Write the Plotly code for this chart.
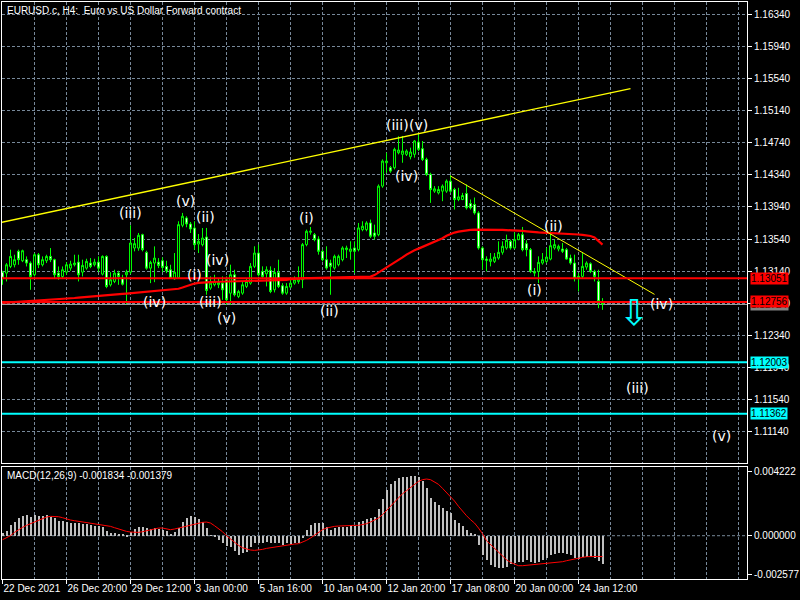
import plotly.graph_objects as go

# --- EURUSD H4 candles (bar index 0 = 22 Dec 2021) ---
opens = [1.13127, 1.13115, 1.13198, 1.13219, 1.13386, 1.13269, 1.13282, 1.13240, 1.13094, 1.13344,
         1.13219, 1.13269, 1.13323, 1.13282, 1.13115, 1.13073, 1.13127, 1.13177, 1.13219, 1.13252,
         1.13127, 1.13177, 1.13240, 1.13219, 1.13252, 1.13102, 1.13323, 1.12969, 1.13011, 1.13115,
         1.13052, 1.13094, 1.13127, 1.13427, 1.13427, 1.13594, 1.13373, 1.13177, 1.13240, 1.13252,
         1.13269, 1.13198, 1.13157, 1.13044, 1.13061, 1.13711, 1.13802, 1.13727, 1.13677, 1.13477,
         1.13469, 1.13565, 1.12928, 1.12970, 1.12970, 1.12990, 1.13032, 1.12865, 1.13095, 1.12824,
         1.12865, 1.12949, 1.12990, 1.13199, 1.13365, 1.13136, 1.13107, 1.13149, 1.12907, 1.13124,
         1.12957, 1.12865, 1.12940, 1.12990, 1.13011, 1.13032, 1.13470, 1.13624, 1.13594, 1.13540,
         1.13386, 1.13282, 1.13240, 1.13178, 1.13220, 1.13282, 1.13407, 1.13386, 1.13428, 1.13407,
         1.13657, 1.13657, 1.13740, 1.13615, 1.13594, 1.14199, 1.14490, 1.14428, 1.14428, 1.14615,
         1.14595, 1.14595, 1.14565, 1.14595, 1.14749, 1.14665, 1.14532, 1.14345, 1.14136, 1.14115,
         1.14136, 1.14136, 1.14261, 1.14157, 1.14032, 1.14032, 1.14107, 1.13982, 1.13970, 1.13865,
         1.13428, 1.13290, 1.13261, 1.13261, 1.13303, 1.13374, 1.13428, 1.13511, 1.13428, 1.13532,
         1.13594, 1.13482, 1.13407, 1.13136, 1.13136, 1.13240, 1.13261, 1.13290, 1.13428, 1.13415,
         1.13415, 1.13407, 1.13303, 1.13240, 1.13074, 1.13074, 1.13190, 1.13232, 1.13136, 1.13011,
         1.12749]
highs = [1.13144, 1.13240, 1.13407, 1.13344, 1.13407, 1.13407, 1.13323, 1.13261, 1.13365, 1.13365,
         1.13323, 1.13344, 1.13427, 1.13294, 1.13198, 1.13198, 1.13252, 1.13269, 1.13344, 1.13344,
         1.13282, 1.13294, 1.13302, 1.13294, 1.13323, 1.13336, 1.13336, 1.13127, 1.13157, 1.13144,
         1.13094, 1.13157, 1.13711, 1.13552, 1.13615, 1.13606, 1.13394, 1.13269, 1.13448, 1.13302,
         1.13311, 1.13269, 1.13219, 1.13365, 1.13761, 1.13865, 1.13823, 1.13752, 1.13761, 1.13602,
         1.13677, 1.13678, 1.13074, 1.13095, 1.13053, 1.13074, 1.13074, 1.13220, 1.13157, 1.12907,
         1.13011, 1.13053, 1.13240, 1.13449, 1.13470, 1.13199, 1.13199, 1.13199, 1.13178, 1.13282,
         1.12990, 1.12990, 1.13032, 1.13074, 1.13199, 1.13490, 1.13657, 1.13690, 1.13615, 1.13574,
         1.13407, 1.13449, 1.13282, 1.13345, 1.13345, 1.13449, 1.13457, 1.13511, 1.13511, 1.13740,
         1.13761, 1.13761, 1.13782, 1.13719, 1.14220, 1.14532, 1.14615, 1.14449, 1.14678, 1.14820,
         1.14824, 1.14657, 1.14678, 1.14774, 1.14845, 1.14761, 1.14553, 1.14365, 1.14199, 1.14199,
         1.14220, 1.14282, 1.14336, 1.14178, 1.14178, 1.14115, 1.14220, 1.14032, 1.14057, 1.13886,
         1.13449, 1.13324, 1.13365, 1.13365, 1.13511, 1.13511, 1.13594, 1.13532, 1.13624, 1.13615,
         1.13690, 1.13524, 1.13428, 1.13178, 1.13324, 1.13365, 1.13428, 1.13636, 1.13532, 1.13470,
         1.13490, 1.13428, 1.13345, 1.13345, 1.13115, 1.13365, 1.13261, 1.13249, 1.13157, 1.13157,
         1.12803]
lows = [1.12969, 1.13011, 1.13177, 1.13186, 1.13219, 1.13252, 1.13198, 1.12907, 1.13073, 1.13177,
        1.13198, 1.13240, 1.13252, 1.13052, 1.13032, 1.13044, 1.13094, 1.13144, 1.13198, 1.13011,
        1.13073, 1.13157, 1.13177, 1.13198, 1.13127, 1.13086, 1.12927, 1.12948, 1.12990, 1.12969,
        1.12961, 1.12727, 1.13102, 1.13386, 1.13394, 1.13386, 1.13157, 1.12990, 1.13002, 1.13177,
        1.13127, 1.13115, 1.13044, 1.13032, 1.13044, 1.13686, 1.13686, 1.13615, 1.13407, 1.13365,
        1.13448, 1.12845, 1.12907, 1.12949, 1.12928, 1.12782, 1.12720, 1.12720, 1.12824, 1.12803,
        1.12845, 1.12928, 1.12970, 1.13178, 1.13074, 1.13053, 1.12949, 1.12865, 1.12874, 1.12928,
        1.12845, 1.12845, 1.12928, 1.12970, 1.12982, 1.12928, 1.13449, 1.13594, 1.13511, 1.13345,
        1.13261, 1.13157, 1.12845, 1.13157, 1.13199, 1.13261, 1.13303, 1.13282, 1.13115, 1.13386,
        1.13636, 1.13636, 1.13553, 1.13532, 1.13574, 1.14178, 1.14365, 1.14365, 1.14407, 1.14595,
        1.14490, 1.14574, 1.14532, 1.14553, 1.14636, 1.14511, 1.14324, 1.13990, 1.14115, 1.14095,
        1.14011, 1.14115, 1.14115, 1.13907, 1.14011, 1.14024, 1.13907, 1.13907, 1.13844, 1.13407,
        1.13157, 1.13136, 1.13199, 1.13240, 1.13282, 1.13345, 1.13407, 1.13407, 1.13415, 1.13524,
        1.13386, 1.13324, 1.13115, 1.13074, 1.12990, 1.13220, 1.13240, 1.13274, 1.13407, 1.13386,
        1.13365, 1.13282, 1.13220, 1.13011, 1.12886, 1.13053, 1.13157, 1.13115, 1.13011, 1.12678,
        1.12657]
closes = [1.13052, 1.13219, 1.13323, 1.13282, 1.13282, 1.13394, 1.13240, 1.13073, 1.13344, 1.13219,
          1.13282, 1.13323, 1.13282, 1.13094, 1.13073, 1.13157, 1.13219, 1.13227, 1.13240, 1.13094,
          1.13211, 1.13261, 1.13198, 1.13252, 1.13177, 1.13323, 1.12948, 1.13032, 1.13115, 1.13073,
          1.12977, 1.13127, 1.13490, 1.13482, 1.13586, 1.13407, 1.13177, 1.13248, 1.13302, 1.13211,
          1.13186, 1.13144, 1.13052, 1.13127, 1.13719, 1.13823, 1.13727, 1.13665, 1.13469, 1.13511,
          1.13552, 1.12899, 1.12990, 1.13011, 1.12999, 1.12907, 1.12782, 1.13095, 1.12845, 1.12886,
          1.12970, 1.13011, 1.13199, 1.13365, 1.13095, 1.13074, 1.13157, 1.12886, 1.13124, 1.12949,
          1.12865, 1.12949, 1.12990, 1.13032, 1.13040, 1.13470, 1.13636, 1.13636, 1.13532, 1.13386,
          1.13282, 1.13178, 1.13199, 1.13324, 1.13324, 1.13428, 1.13428, 1.13415, 1.13386, 1.13678,
          1.13699, 1.13740, 1.13574, 1.13574, 1.14199, 1.14511, 1.14511, 1.14386, 1.14657, 1.14649,
          1.14636, 1.14636, 1.14624, 1.14761, 1.14657, 1.14532, 1.14345, 1.14157, 1.14165, 1.14157,
          1.14199, 1.14261, 1.14136, 1.14032, 1.14065, 1.14082, 1.13928, 1.13928, 1.13865, 1.13428,
          1.13282, 1.13274, 1.13290, 1.13315, 1.13374, 1.13449, 1.13524, 1.13428, 1.13532, 1.13594,
          1.13407, 1.13407, 1.13136, 1.13115, 1.13249, 1.13282, 1.13315, 1.13457, 1.13470, 1.13449,
          1.13386, 1.13290, 1.13240, 1.13053, 1.13053, 1.13199, 1.13240, 1.13136, 1.13074, 1.12761,
          1.12728]

# red moving average on the price chart
ma = [1.12745, 1.12748, 1.12750, 1.12752, 1.12755, 1.12758, 1.12760, 1.12763, 1.12766, 1.12770,
      1.12773, 1.12776, 1.12780, 1.12784, 1.12788, 1.12792, 1.12796, 1.12800, 1.12805, 1.12810,
      1.12815, 1.12820, 1.12825, 1.12830, 1.12834, 1.12838, 1.12842, 1.12845, 1.12848, 1.12852,
      1.12856, 1.12860, 1.12864, 1.12868, 1.12872, 1.12876, 1.12880, 1.12884, 1.12888, 1.12893,
      1.12898, 1.12903, 1.12908, 1.12913, 1.12920, 1.12935, 1.12955, 1.12975, 1.12985, 1.12993,
      1.12998, 1.13003, 1.13005, 1.13006, 1.13007, 1.13008, 1.13009, 1.13010, 1.13011, 1.13012,
      1.13013, 1.13014, 1.13015, 1.13016, 1.13017, 1.13018, 1.13019, 1.13020, 1.13021, 1.13022,
      1.13023, 1.13030, 1.13040, 1.13045, 1.13048, 1.13050, 1.13052, 1.13053, 1.13054, 1.13055,
      1.13056, 1.13057, 1.13058, 1.13059, 1.13060, 1.13061, 1.13062, 1.13063, 1.13064, 1.13065,
      1.13066, 1.13067, 1.13072, 1.13090, 1.13120, 1.13150, 1.13180, 1.13210, 1.13245, 1.13280,
      1.13310, 1.13345, 1.13375, 1.13400, 1.13420, 1.13440, 1.13465, 1.13490, 1.13510, 1.13530,
      1.13550, 1.13580, 1.13605, 1.13620, 1.13632, 1.13642, 1.13650, 1.13654, 1.13656, 1.13657,
      1.13657, 1.13657, 1.13656, 1.13655, 1.13654, 1.13653, 1.13652, 1.13650, 1.13649, 1.13645,
      1.13640, 1.13635, 1.13628, 1.13624, 1.13622, 1.13620, 1.13618, 1.13617, 1.13616, 1.13615,
      1.13612, 1.13608, 1.13604, 1.13600, 1.13596, 1.13592, 1.13585, 1.13578, 1.13560, 1.13515,
      1.13470]

# MACD(12,26,9): histogram (main line) and signal
macd = [0.000176, 0.000352, 0.000726, 0.000946, 0.001166, 0.001320, 0.001386, 0.001276, 0.001386, 0.001342,
        0.001342, 0.001386, 0.001276, 0.001166, 0.001012, 0.000990, 0.000902, 0.000880, 0.000880, 0.000836,
        0.000792, 0.000770, 0.000726, 0.000682, 0.000660, 0.000616, 0.000352, 0.000220, 0.000176, 0.000132,
        0.000066, -0.000088, 0.000286, 0.000440, 0.000616, 0.000616, 0.000506, 0.000440, 0.000506, 0.000484,
        0.000396, 0.000352, 0.000132, 0.000286, 0.000506, 0.000946, 0.001166, 0.001320, 0.001232, 0.001100,
        0.000946, 0.000506, 0.000020, -0.000088, -0.000264, -0.000484, -0.000660, -0.000748, -0.000968, -0.001254,
        -0.001144, -0.001034, -0.000704, -0.000484, -0.000440, -0.000484, -0.000374, -0.000484, -0.000440, -0.000484,
        -0.000594, -0.000484, -0.000528, -0.000484, -0.000440, -0.000154, 0.000396, 0.000726, 0.000880, 0.000880,
        0.000836, 0.000616, 0.000396, 0.000506, 0.000616, 0.000616, 0.000616, 0.000660, 0.000660, 0.000946,
        0.001012, 0.001100, 0.001166, 0.001276, 0.001760, 0.002420, 0.003036, 0.003432, 0.003652, 0.003806,
        0.003872, 0.003916, 0.003960, 0.003982, 0.003916, 0.003652, 0.003146, 0.002486, 0.002266, 0.002046,
        0.001826, 0.001672, 0.001540, 0.001056, 0.000836, 0.000660, 0.000396, 0.000220, 0.000066, -0.000594,
        -0.001254, -0.001584, -0.001914, -0.002068, -0.002134, -0.002134, -0.002024, -0.001848, -0.001760, -0.001694,
        -0.001694, -0.001584, -0.001694, -0.001804, -0.001694, -0.001584, -0.001474, -0.001254, -0.001188, -0.001100,
        -0.001144, -0.001188, -0.001254, -0.001474, -0.001540, -0.001408, -0.001364, -0.001364, -0.001474, -0.001650,
        -0.001834]
signal = [-0.000264, -0.000132, 0.000000, 0.000220, 0.000396, 0.000550, 0.000682, 0.000792, 0.000902, 0.001012,
          0.001122, 0.001232, 0.001276, 0.001276, 0.001254, 0.001188, 0.001100, 0.001034, 0.000990, 0.000946,
          0.000924, 0.000880, 0.000836, 0.000792, 0.000770, 0.000726, 0.000682, 0.000616, 0.000528, 0.000440,
          0.000352, 0.000286, 0.000242, 0.000220, 0.000220, 0.000264, 0.000330, 0.000396, 0.000462, 0.000506,
          0.000506, 0.000462, 0.000396, 0.000440, 0.000506, 0.000572, 0.000638, 0.000704, 0.000770, 0.000836,
          0.000880, 0.000902, 0.000836, 0.000660, 0.000484, 0.000264, 0.000000, -0.000220, -0.000440, -0.000638,
          -0.000792, -0.000880, -0.000946, -0.000968, -0.000946, -0.000902, -0.000836, -0.000792, -0.000748, -0.000704,
          -0.000638, -0.000594, -0.000572, -0.000550, -0.000528, -0.000440, -0.000308, -0.000154, 0.000044, 0.000242,
          0.000396, 0.000506, 0.000572, 0.000616, 0.000638, 0.000660, 0.000682, 0.000682, 0.000682, 0.000682,
          0.000726, 0.000792, 0.000902, 0.001012, 0.001166, 0.001386, 0.001672, 0.001980, 0.002266, 0.002530,
          0.002772, 0.002970, 0.003168, 0.003366, 0.003586, 0.003696, 0.003740, 0.003696, 0.003564, 0.003388,
          0.003124, 0.002860, 0.002596, 0.002288, 0.001936, 0.001606, 0.001320, 0.001056, 0.000836, 0.000506,
          0.000132, -0.000330, -0.000594, -0.000836, -0.001100, -0.001364, -0.001584, -0.001760, -0.001892, -0.001980,
          -0.001980, -0.001958, -0.001936, -0.001914, -0.001892, -0.001870, -0.001848, -0.001826, -0.001804, -0.001760,
          -0.001716, -0.001650, -0.001584, -0.001540, -0.001474, -0.001430, -0.001386, -0.001364, -0.001360, -0.001370,
          -0.001379]

date_ticks = [0, 16, 32, 48, 64, 80, 96, 112, 128, 144]
date_labels = ["22 Dec 2021", "26 Dec 20:00", "29 Dec 12:00", "3 Jan 00:00", "5 Jan 16:00",
               "10 Jan 04:00", "12 Jan 20:00", "17 Jan 08:00", "20 Jan 00:00", "24 Jan 12:00"]

red_levels = [1.13051, 1.12756]
cyan_levels = [1.12003, 1.11362]
bid_price = 1.12724

# trend lines (bar, price)
upper_line_x = [-1, 157]
upper_line_y = [1.13740, 1.15414]
down_line_x = [112, 163]
down_line_y = [1.14325, 1.12850]

# Elliott wave marks (text, bar, price)
waves = [("(iii)", 31.9, 1.13866), ("(v)", 45.8, 1.14019), ("(ii)", 50.8, 1.13811),
         ("(i)", 47.9, 1.13087), ("(iv)", 53.7, 1.13273), ("(iv)", 37.9, 1.12755),
         ("(iii)", 51.9, 1.12755), ("(v)", 56.05, 1.12561), ("(i)", 75.9, 1.13801),
         ("(ii)", 81.75, 1.12639), ("(iii)", 98.7, 1.14963), ("(v)", 103.9, 1.14963),
         ("(iv)", 100.9, 1.14329), ("(ii)", 137.7, 1.13708), ("(i)", 132.9, 1.12900),
         ("(iv)", 164.8, 1.12735), ("(iii)", 158.8, 1.11679), ("(v)", 179.8, 1.11090)]
arrow_at = (157.75, 1.12627)

bars = list(range(len(closes)))
small = "Liberation Sans, Arial, sans-serif"
grid = "#778899"
XR = [-0.125, 186.125]

fig = go.Figure()

fig.add_trace(go.Candlestick(
    x=bars, open=opens, high=highs, low=lows, close=closes,
    increasing=dict(line=dict(color="#00FF00", width=1), fillcolor="black"),
    decreasing=dict(line=dict(color="#00FF00", width=1), fillcolor="white"),
    xaxis="x", yaxis="y", hoverinfo="skip"))
fig.add_trace(go.Scatter(x=bars, y=ma, mode="lines", line=dict(color="#FF0000", width=2.2),
                         xaxis="x", yaxis="y"))
fig.add_trace(go.Scatter(x=upper_line_x, y=upper_line_y, mode="lines",
                         line=dict(color="#FFFF00", width=1.4), xaxis="x", yaxis="y"))
fig.add_trace(go.Scatter(x=down_line_x, y=down_line_y, mode="lines",
                         line=dict(color="#FFFF00", width=1), xaxis="x", yaxis="y"))

fig.add_trace(go.Bar(x=bars, y=macd, width=0.5, marker=dict(color="#C0C0C0", line=dict(width=0)),
                     xaxis="x2", yaxis="y2"))
fig.add_trace(go.Scatter(x=bars, y=signal, mode="lines", line=dict(color="#FF0000", width=1),
                         xaxis="x2", yaxis="y2"))

shapes = []
for lv in red_levels:
    shapes.append(dict(type="line", xref="paper", x0=0, x1=1, yref="y", y0=lv, y1=lv,
                       line=dict(color="#FF0000", width=2)))
for lv in cyan_levels:
    shapes.append(dict(type="line", xref="paper", x0=0, x1=1, yref="y", y0=lv, y1=lv,
                       line=dict(color="#00FFFF", width=2)))
shapes.append(dict(type="line", xref="paper", x0=0, x1=1, yref="y", y0=bid_price, y1=bid_price,
                   line=dict(color="#A0A0A0", width=1), layer="below"))
shapes.append(dict(type="line", xref="paper", x0=0, x1=1, yref="y2", y0=0, y1=0,
                   line=dict(color=grid, width=1, dash="3px,2px"), layer="below"))

ann = []
ann.append(dict(text="EURUSD.c, H4:  Euro vs US Dollar Forward contract", xref="paper", yref="paper",
                x=0.004, y=0.986, xanchor="left", yanchor="middle", showarrow=False,
                font=dict(family=small, size=10, color="white")))
ann.append(dict(text="MACD(12,26,9) -0.001834 -0.001379", xref="paper", yref="paper",
                x=0.004, y=0.18, xanchor="left", yanchor="middle", showarrow=False,
                font=dict(family=small, size=10, color="white")))
for txt, bx, py in waves:
    ann.append(dict(text=txt, x=bx, y=py, xref="x", yref="y", showarrow=False,
                    font=dict(family="DejaVu Sans", size=14, color="white")))
ann.append(dict(text="⇩", x=arrow_at[0], y=arrow_at[1], xref="x", yref="y", showarrow=False,
                font=dict(family="DejaVu Sans", size=36, color="#00FFFF")))

# price boxes on the right scale
def price_box(val, bg):
    return dict(text="%.5f" % val, xref="paper", yref="y", x=1, y=val, xanchor="left",
                yanchor="middle", xshift=3, showarrow=False, bgcolor=bg, borderpad=0,
                font=dict(family=small, size=10, color="black"))

ann.append(price_box(bid_price, "#808080"))
for lv in red_levels:
    ann.append(price_box(lv, "#FF0000"))
for lv in cyan_levels:
    ann.append(price_box(lv, "#00FFFF"))

axis_common = dict(showline=True, mirror=True, linecolor="white", linewidth=1, zeroline=False,
                   automargin=False)

fig.update_layout(
    width=800, height=600,
    margin=dict(l=2, r=53, t=2, b=21),
    paper_bgcolor="black", plot_bgcolor="black",
    showlegend=False, hovermode=False, bargap=0, boxgap=0.3,
    shapes=shapes, annotations=ann,
    xaxis=dict(domain=[0, 1], anchor="y", range=XR, rangeslider=dict(visible=False),
               tickmode="linear", tick0=0, dtick=8, showticklabels=False, ticks="",
               showgrid=True, gridcolor=grid, griddash="3px,2px", gridwidth=1, **axis_common),
    yaxis=dict(domain=[0.2005, 1], anchor="x", range=[1.10745, 1.16493], side="right",
               tickmode="linear", tick0=1.11140, dtick=0.004, tickformat=".5f",
               ticks="outside", ticklen=4, tickcolor="white",
               tickfont=dict(family=small, size=10, color="white"),
               showgrid=True, gridcolor=grid, griddash="3px,2px", gridwidth=1, **axis_common),
    xaxis2=dict(domain=[0, 1], anchor="y2", range=XR,
                tickmode="array", tickvals=date_ticks, ticktext=date_labels, tickangle=0,
                ticks="outside", ticklen=4, tickcolor="white", ticklabelposition="outside right",
                tickfont=dict(family=small, size=10, color="white"),
                showgrid=True, gridcolor=grid, griddash="3px,2px", gridwidth=1,
                minor=dict(tickmode="linear", tick0=0, dtick=8, showgrid=True, gridcolor=grid,
                           griddash="3px,2px", gridwidth=1),
                **axis_common),
    yaxis2=dict(domain=[0, 0.1946], anchor="x2", range=[-0.002857, 0.004552], side="right",
                tickmode="array", tickvals=[0.004222, 0.0, -0.002577],
                ticktext=["0.004222", "0.000000", "-0.002577"],
                ticks="outside", ticklen=4, tickcolor="white",
                tickfont=dict(family=small, size=10, color="white"),
                showgrid=False, **axis_common),
)

# page body has a default 8px margin; drop it so the chart sits at the window corner
fig.write_html("out.html", config={"displayModeBar": False},
               post_script="document.body.style.margin='0px';document.body.style.background='black';")
